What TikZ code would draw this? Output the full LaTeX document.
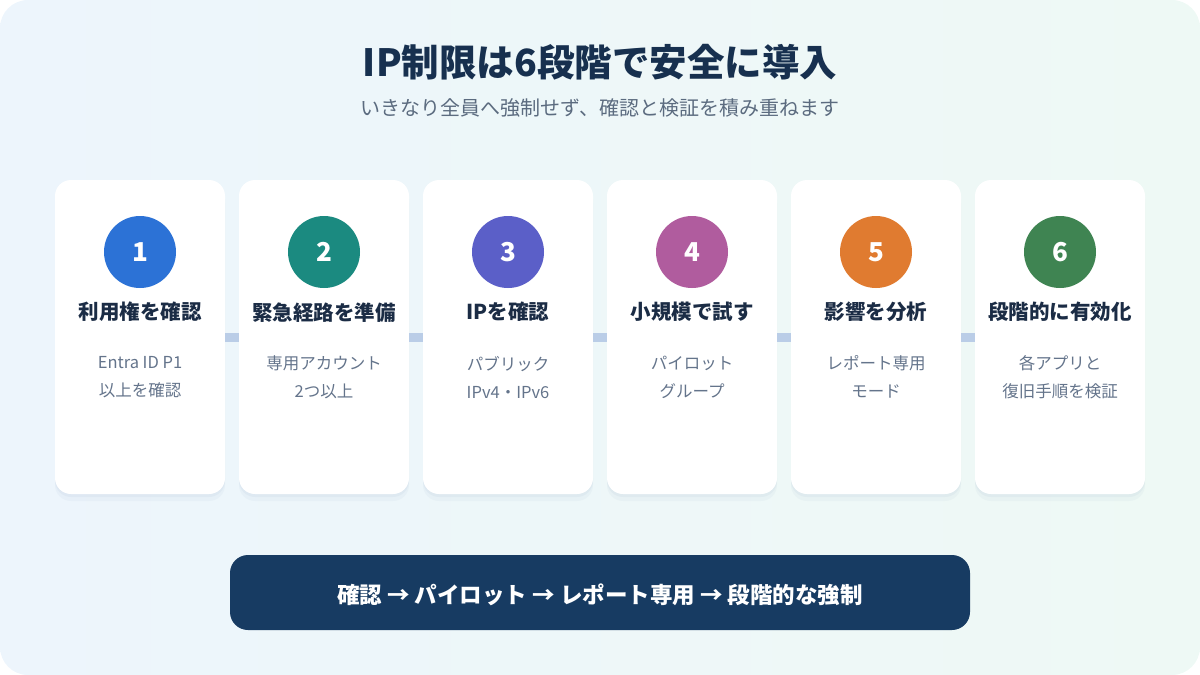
\documentclass[tikz,border=0pt]{standalone}
\usepackage{fontspec}
\setmainfont{Noto Sans CJK JP}
\usetikzlibrary{positioning}
\usetikzlibrary{calc}
\definecolor{bgleft}{HTML}{EDF5FC}
\definecolor{bgright}{HTML}{EEF9F5}
\definecolor{titlecol}{HTML}{17304F}
\definecolor{subcol}{HTML}{5B6B7F}
\definecolor{headcol}{HTML}{1B2C45}
\definecolor{desccol}{HTML}{64748B}
\definecolor{linkcol}{HTML}{BACDE7}
\definecolor{shadowcol}{HTML}{9DB4CC}
\definecolor{barcol}{HTML}{173B62}
\definecolor{stepa}{HTML}{2C72D6}
\definecolor{stepb}{HTML}{1B8A80}
\definecolor{stepc}{HTML}{5B5FC8}
\definecolor{stepd}{HTML}{B05C9E}
\definecolor{stepe}{HTML}{E07B30}
\definecolor{stepf}{HTML}{3F8452}

\begin{document}
\begin{tikzpicture}[x=1pt, y=-1pt, node distance=13.6pt, font=\fontsize{15}{18}\selectfont]
    \tikzstyle{card}=[rectangle, fill=white, rounded corners=16pt, minimum width=170pt, minimum height=314pt, inner sep=0pt,
        preaction={fill=shadowcol, opacity=0.08, transform canvas={yshift=-7pt}},
        preaction={fill=shadowcol, opacity=0.10, transform canvas={yshift=-3pt}}]
    \tikzstyle{badge}=[circle, minimum size=72pt, inner sep=0pt, text=white, font=\fontsize{26}{30}\selectfont\bfseries]
    \tikzstyle{head}=[text=headcol, font=\fontsize{20.5}{24}\selectfont\bfseries]
    \tikzstyle{desc}=[text=desccol, align=center, font=\fontsize{16.5}{28}\selectfont]
    \tikzstyle{link}=[draw=linkcol, line width=9pt]

    \useasboundingbox (0,0) rectangle (1200,675);
    \shade[left color=bgleft, right color=bgright, rounded corners=28pt] (0,0) rectangle (1200,675);

    \node[text=titlecol, font=\fontsize{37.5}{44}\selectfont\bfseries] (title) at (600,62) {IP制限は6段階で安全に導入};
    \node[text=subcol, font=\fontsize{20}{24}\selectfont] (subtitle) at (600,108) {いきなり全員へ強制せず、確認と検証を積み重ねます};

    % step cards
    \node[card] (s1) at (140,337) {};
    \node[card, right=of s1] (s2) {};
    \node[card, right=of s2] (s3) {};
    \node[card, right=of s3] (s4) {};
    \node[card, right=of s4] (s5) {};
    \node[card, right=of s5] (s6) {};

    \path[link] (s1.east) edge (s2.west);
    \path[link] (s2.east) edge (s3.west);
    \path[link] (s3.east) edge (s4.west);
    \path[link] (s4.east) edge (s5.west);
    \path[link] (s5.east) edge (s6.west);

    \node[badge, fill=stepa, below=36pt of s1.north] (b1) {1};
    \node[badge, fill=stepb, below=36pt of s2.north] (b2) {2};
    \node[badge, fill=stepc, below=36pt of s3.north] (b3) {3};
    \node[badge, fill=stepd, below=36pt of s4.north] (b4) {4};
    \node[badge, fill=stepe, below=36pt of s5.north] (b5) {5};
    \node[badge, fill=stepf, below=36pt of s6.north] (b6) {6};

    \node[head] (h1) at ($(b1.south)+(0,24)$) {利用権を確認};
    \node[head] (h2) at ($(b2.south)+(0,24)$) {緊急経路を準備};
    \node[head] (h3) at ($(b3.south)+(0,24)$) {IPを確認};
    \node[head] (h4) at ($(b4.south)+(0,24)$) {小規模で試す};
    \node[head] (h5) at ($(b5.south)+(0,24)$) {影響を分析};
    \node[head] (h6) at ($(b6.south)+(0,24)$) {段階的に有効化};

    \node[desc] (d1) at ($(h1)+(0,65)$) {Entra ID P1\\以上を確認};
    \node[desc] (d2) at ($(h2)+(0,65)$) {専用アカウント\\2つ以上};
    \node[desc] (d3) at ($(h3)+(0,65)$) {パブリック\\IPv4・IPv6};
    \node[desc] (d4) at ($(h4)+(0,65)$) {パイロット\\グループ};
    \node[desc] (d5) at ($(h5)+(0,65)$) {レポート専用\\モード};
    \node[desc] (d6) at ($(h6)+(0,65)$) {各アプリと\\復旧手順を検証};

    % summary bar
    \node[fill=barcol, rounded corners=18pt, minimum width=740pt, minimum height=75pt] (summary) at (600,592.5) {};
    \node[text=white, font=\fontsize{22.5}{26}\selectfont\bfseries] at ($(summary)+(0,2.5)$) {確認 → パイロット → レポート専用 → 段階的な強制};
\end{tikzpicture}
\end{document}
